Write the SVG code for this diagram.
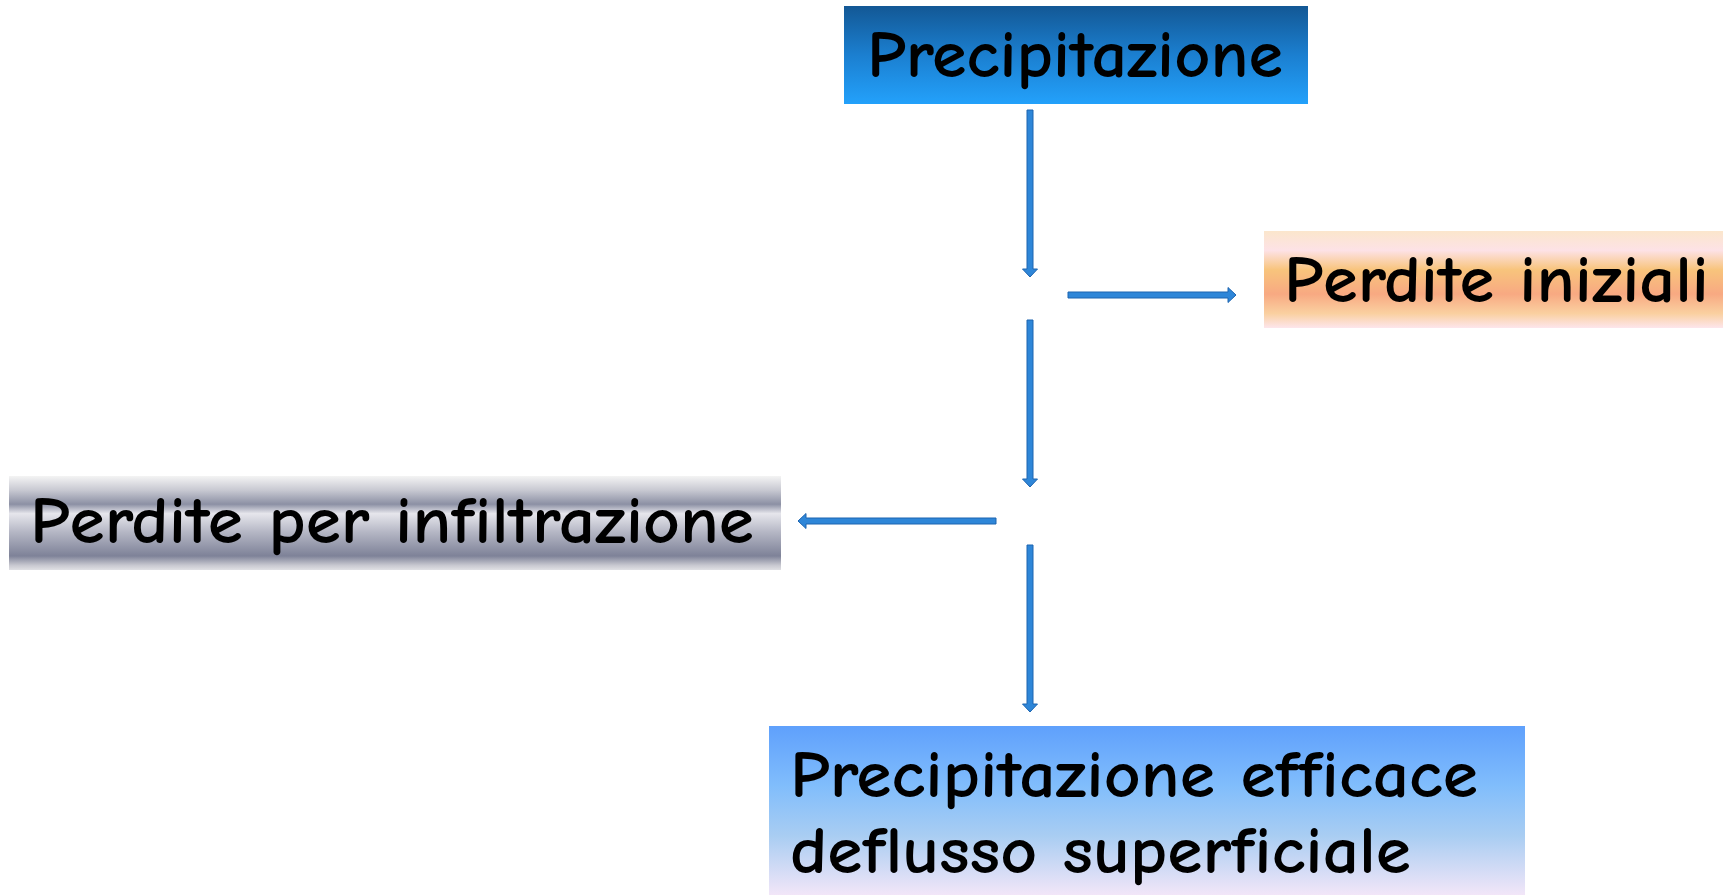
<svg xmlns="http://www.w3.org/2000/svg" width="1723" height="895" viewBox="0 0 1723 895">
<defs>
<linearGradient id="gTop" x1="0" y1="0" x2="0" y2="1">
<stop offset="0" stop-color="#135895"/>
<stop offset="0.5" stop-color="#1b7fd0"/>
<stop offset="1" stop-color="#23a1fb"/>
</linearGradient>
<linearGradient id="gOrange" x1="0" y1="0" x2="0" y2="1">
<stop offset="0" stop-color="#fbe6cc"/>
<stop offset="0.2" stop-color="#fde2e6"/>
<stop offset="0.4" stop-color="#f8c47c"/>
<stop offset="0.65" stop-color="#f8a982"/>
<stop offset="0.85" stop-color="#fad0a0"/>
<stop offset="1" stop-color="#fde6ec"/>
</linearGradient>
<linearGradient id="gGray" x1="0" y1="0" x2="0" y2="1">
<stop offset="0" stop-color="#f4f4f4"/>
<stop offset="0.15" stop-color="#c8c9d2"/>
<stop offset="0.3" stop-color="#8c90a4"/>
<stop offset="0.4" stop-color="#e6e6ec"/>
<stop offset="0.6" stop-color="#b4b6c4"/>
<stop offset="0.85" stop-color="#7e8298"/>
<stop offset="0.95" stop-color="#c8c8d0"/>
<stop offset="1" stop-color="#e0e0e4"/>
</linearGradient>
<linearGradient id="gBottom" x1="0" y1="0" x2="0" y2="1">
<stop offset="0" stop-color="#5fa0fc"/>
<stop offset="0.35" stop-color="#80bdfc"/>
<stop offset="0.65" stop-color="#a9cdf2"/>
<stop offset="1" stop-color="#f2e6f8"/>
</linearGradient>
</defs>
<style>
.lbl{font-family:"Comic Sans MS","Comic Neue","DejaVu Sans",sans-serif;font-size:66px;font-weight:bold;fill:#000000;}
.arr{fill:#2e86d8;stroke:#1c64b0;stroke-width:1;}
</style>
<rect width="1723" height="895" fill="#ffffff"/>
<g id="node-precipitazione">
<rect x="844" y="6" width="464" height="98" fill="url(#gTop)"/>
<text class="lbl" x="867" y="77" textLength="416" lengthAdjust="spacingAndGlyphs">Precipitazione</text>
</g>
<g id="node-perdite-iniziali">
<rect x="1264" y="231" width="459" height="97" fill="url(#gOrange)"/>
<text class="lbl" x="1284" y="302" textLength="425" lengthAdjust="spacingAndGlyphs">Perdite iniziali</text>
</g>
<g id="node-perdite-infiltrazione">
<rect x="9" y="476" width="772" height="94" fill="url(#gGray)"/>
<text class="lbl" x="30" y="543" textLength="724" lengthAdjust="spacingAndGlyphs">Perdite per infiltrazione</text>
</g>
<g id="node-precipitazione-efficace">
<rect x="769" y="726" width="756" height="169" fill="url(#gBottom)"/>
<text class="lbl" x="790" y="797" textLength="688" lengthAdjust="spacingAndGlyphs">Precipitazione efficace</text>
<text class="lbl" x="790" y="873" textLength="621" lengthAdjust="spacingAndGlyphs">deflusso superficiale</text>
</g>
<g id="connectors">
<path class="arr" d="M1027,110 H1033 V269 H1037.5 L1030,277 L1022.5,269 H1027 Z"/>
<path class="arr" d="M1068,292 H1228 V287.5 L1236,295 L1228,302.5 V298 H1068 Z"/>
<path class="arr" d="M1027,320 H1033 V479 H1037.5 L1030,487 L1022.5,479 H1027 Z"/>
<path class="arr" d="M996,518 H806 V513.5 L798,521 L806,528.5 V524 H996 Z"/>
<path class="arr" d="M1027,545 H1033 V704 H1037.5 L1030,712 L1022.5,704 H1027 Z"/>
</g>
</svg>
